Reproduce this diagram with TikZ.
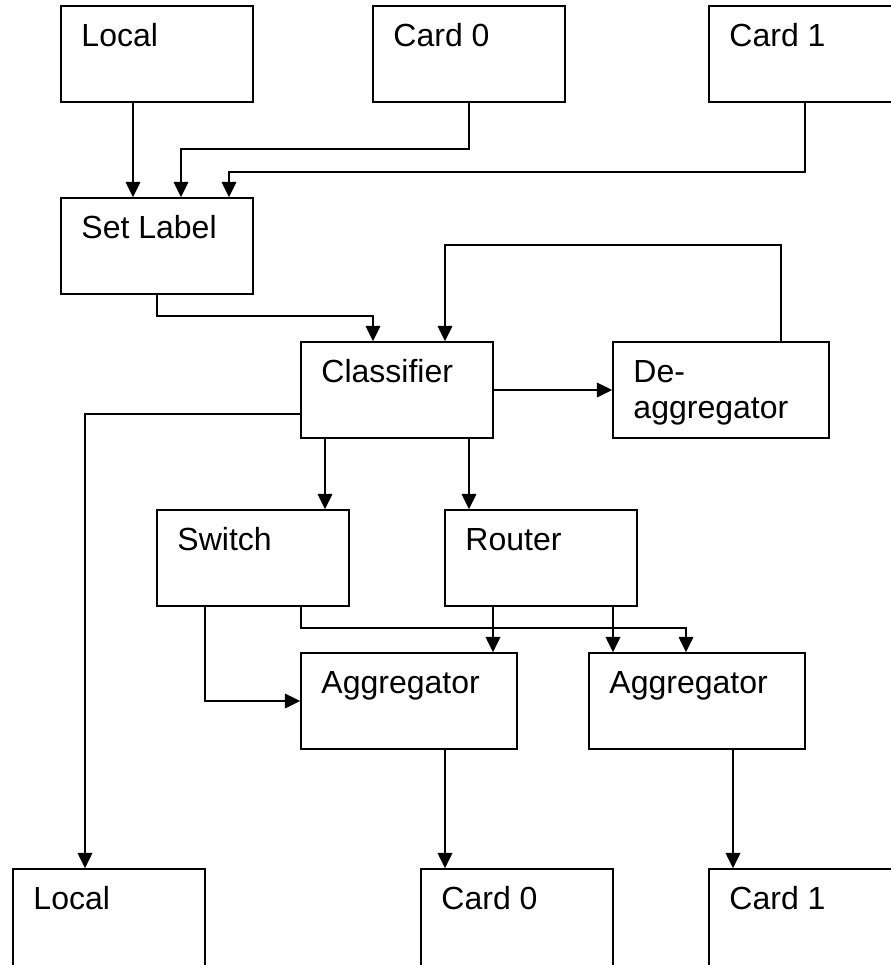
\documentclass[tikz,border=0pt]{standalone}
\usepackage{fontspec}
\setmainfont{Liberation Sans}
\usetikzlibrary{calc,arrows.meta}

\begin{document}
\begin{tikzpicture}[
    x=0.75pt, y=-0.75pt,
    box/.style={draw, line width=1.2pt, rectangle, inner sep=0pt,
                minimum width=144pt, minimum height=72pt},
    widebox/.style={box, minimum width=162pt},
    openbox/.style={box, minimum height=75pt},
    txt/.style={anchor=base west, inner sep=0pt, align=left,
                font=\fontsize{24}{27}\selectfont},
    arr/.style={draw, line width=1.2pt, -{Triangle[length=11.5pt,width=11pt]}}
  ]
  \useasboundingbox (0,0) rectangle (891,965);
  \clip (0,0) rectangle (891,965);

  % sources
  \node[box] (inLocal) at (157,54) {};
  \node[box] (inCard0) at (469,54) {};
  \node[box] (inCard1) at (805,54) {};
  % processing stages
  \node[box]     (setLabel)   at (157,246) {};
  \node[box]     (classifier) at (397,390) {};
  \node[widebox] (deagg)      at (721,390) {};
  \node[box]     (switch)     at (253,558) {};
  \node[box]     (router)     at (541,558) {};
  \node[widebox] (agg1)       at (409,701) {};
  \node[widebox] (agg2)       at (697,701) {};
  % sinks
  \node[openbox] (outLocal) at (109,919) {};
  \node[openbox] (outCard0) at (517,919) {};
  \node[openbox] (outCard1) at (805,919) {};

  % box captions
  \node[txt] (tInLocal)   at ($(inLocal.north west)+(21,41)$)    {Local};
  \node[txt] (tInCard0)   at ($(inCard0.north west)+(21,41)$)    {Card 0};
  \node[txt] (tInCard1)   at ($(inCard1.north west)+(21,41)$)    {Card 1};
  \node[txt] (tSetLabel)  at ($(setLabel.north west)+(21,41)$)   {Set Label};
  \node[txt] (tClass)     at ($(classifier.north west)+(21,41)$) {Classifier};
  \node[txt] (tDeagg)     at ($(deagg.north west)+(21,77)$)      {De-\\aggregator};
  \node[txt] (tSwitch)    at ($(switch.north west)+(21,41)$)     {Switch};
  \node[txt] (tRouter)    at ($(router.north west)+(21,41)$)     {Router};
  \node[txt] (tAgg1)      at ($(agg1.north west)+(21,41)$)       {Aggregator};
  \node[txt] (tAgg2)      at ($(agg2.north west)+(21,41)$)       {Aggregator};
  \node[txt] (tOutLocal)  at ($(outLocal.north west)+(21,41)$)   {Local};
  \node[txt] (tOutCard0)  at ($(outCard0.north west)+(21,41)$)   {Card 0};
  \node[txt] (tOutCard1)  at ($(outCard1.north west)+(21,41)$)   {Card 1};

  % inputs into Set Label
  \path[arr] ($(inLocal.south)+(-24,0)$) -- ($(setLabel.north)+(-24,0)$);
  \path[arr] (inCard0.south) |- ($(setLabel.north)+(24,-48)$) -- ($(setLabel.north)+(24,0)$);
  \path[arr] (inCard1.south) |- ($(setLabel.north)+(72,-25)$) -- ($(setLabel.north)+(72,0)$);

  % Set Label -> Classifier
  \path[arr] (setLabel.south) |- ($(classifier.north)+(-24,-25)$) -- ($(classifier.north)+(-24,0)$);

  % Classifier <-> De-aggregator
  \path[arr] (classifier.east) -- (deagg.west);
  \path[arr] ($(deagg.north)+(60,0)$) |- ($(classifier.north)+(48,-96)$) -- ($(classifier.north)+(48,0)$);

  % Classifier outputs
  \path[arr] ($(classifier.west)+(0,24)$) -| ($(outLocal.north)+(-24,0)$);
  \path[arr] ($(classifier.south)+(-72,0)$) -- ($(switch.north)+(72,0)$);
  \path[arr] ($(classifier.south)+(72,0)$) -- ($(router.north)+(-72,0)$);

  % Switch and Router into the aggregators
  \path[arr] ($(switch.south)+(-48,0)$) |- (agg1.west);
  \path[arr] ($(switch.south)+(48,0)$) |- ($(agg2.north)+(-11,-24)$) -- ($(agg2.north)+(-11,0)$);
  \path[arr] ($(router.south)+(-48,0)$) -- ($(agg1.north)+(84,0)$);
  \path[arr] ($(router.south)+(72,0)$) -- ($(agg2.north)+(-84,0)$);

  % aggregators to cards
  \path[arr] ($(agg1.south)+(36,0)$) -- ($(outCard0.north)+(-72,0)$);
  \path[arr] ($(agg2.south)+(36,0)$) -- ($(outCard1.north)+(-72,0)$);
\end{tikzpicture}
\end{document}
